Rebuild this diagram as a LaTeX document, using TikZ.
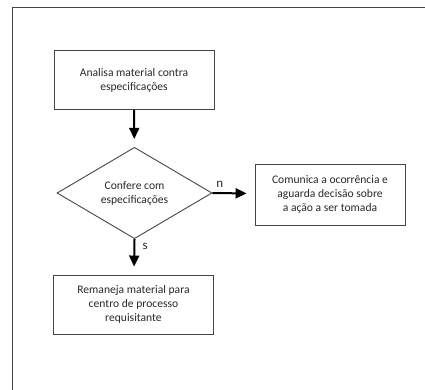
\documentclass[tikz,border=0pt]{standalone}
\usepackage{fontspec}
\setmainfont{Carlito}
\usetikzlibrary{shapes.geometric,arrows.meta}
\definecolor{linegray}{RGB}{70,70,70}
\definecolor{textgray}{RGB}{40,40,40}
\begin{document}
\begin{tikzpicture}[x=1pt,y=-1pt,
  box/.style={draw=linegray, line width=0.9pt, rectangle, align=center, text=textgray, font=\fontsize{11.6}{14}\selectfont},
  flow/.style={draw, line width=2pt, -{Triangle[length=11pt,width=10pt]}, shorten >=8pt}]
\useasboundingbox (0,0) rectangle (425,390);
\draw[linegray, line width=1pt] (12,390) -- (12,8) -- (425,8);

\node[box, minimum width=160pt, minimum height=59pt] (analisa) at (134,80) {Analisa material contra\\especificações};
\node[box, diamond, minimum width=155pt, minimum height=78pt, inner sep=0pt] (confere) at (134.5,193) {Confere com\\especificações};
\node[box, minimum width=150pt, minimum height=61pt] (comunica) at (330,194.5) {Comunica a ocorrência e\\aguarda decisão sobre\\a ação a ser tomada};
\node[box, minimum width=160pt, minimum height=59pt] (remaneja) at (133.5,304.5) {Remaneja material para\\centro de processo\\requisitante};

\path[flow] (analisa) -- (confere);
\path[flow] (confere.east) -- node[at start, above right, inner sep=3pt, yshift=2pt, font=\fontsize{13}{15}\selectfont, text=textgray] {n} (comunica);
\path[flow] (confere.south) -- node[at start, below right, inner sep=3pt, xshift=4pt, font=\fontsize{13}{15}\selectfont, text=textgray] {s} (remaneja);
\end{tikzpicture}
\end{document}
